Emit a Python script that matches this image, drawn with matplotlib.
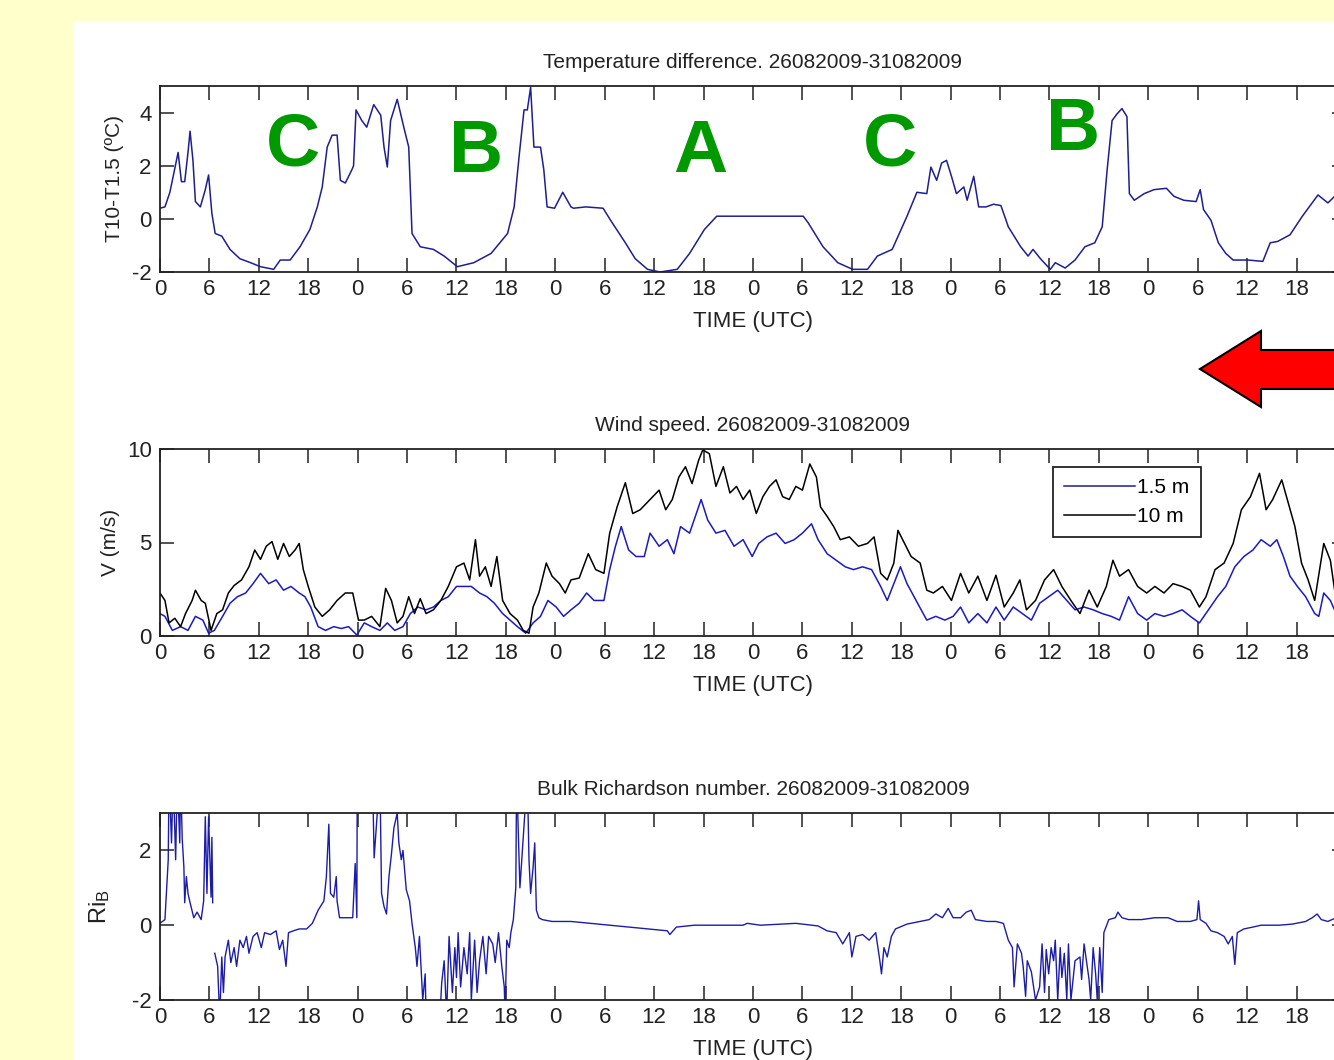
import numpy as np
import matplotlib
matplotlib.use('Agg')
import matplotlib.pyplot as plt
from matplotlib.patches import Rectangle, Polygon

plt.rcParams['font.family'] = ['Liberation Sans Narrow', 'Liberation Sans', 'DejaVu Sans']
plt.rcParams['axes.unicode_minus'] = False

nan = np.nan

# ---- temperature difference T10-T1.5 (hours since 26/08 00 UTC, degC)
t_hours = [0, 0.6, 1.2, 1.6, 2.2, 2.6, 3.0, 3.4, 3.65, 4.0, 4.3, 4.9, 5.5, 5.9, 6.3, 6.7,
           7.5, 8.5, 9.7, 11.0, 12.2, 13.8, 14.6, 15.8, 17.0, 18.2, 19.1, 19.7, 20.3, 20.9,
           21.5, 21.9, 22.5, 23.3, 23.5, 23.8, 24.5, 25.1, 25.95, 26.8, 27.2, 27.6, 28.0, 28.8,
           29.6, 30.2, 30.6, 31.6, 33.2, 34.5, 36.1, 38.1, 40.2, 42.2, 43.0, 43.6, 44.2, 44.6,
           45.0, 45.4, 46.2, 46.6, 47.0, 47.9, 48.9, 49.9, 50.2, 51.7, 53.8, 54.7, 56.5, 57.7,
           59.2, 60.7, 62.8, 64.3, 66.1, 67.6, 70.0, 78.1, 78.7, 80.5, 82.3, 84.1, 85.9, 87.1,
           88.9, 90.7, 91.9, 93.1, 93.6, 94.3, 94.9, 95.5, 96.1, 96.7, 97.6, 98.0, 98.8, 99.4,
           100.3, 101.2, 102.1, 103.0, 104.5, 105.4, 106.0, 106.9, 108.1, 108.7, 109.9, 111.1,
           112.3, 113.5, 114.4, 115.0, 115.6, 116.2, 116.8, 117.4, 117.7, 118.3, 119.5, 120.7,
           122.2, 123.1, 124.3, 125.8, 126.3, 126.7, 127.6, 128.5, 129.4, 130.3, 132.1, 133.9,
           134.8, 135.7, 137.2, 138.7, 140.6, 141.8, 142.8, 144.0]
t_diff = [0.4, 0.45, 1.0, 1.6, 2.5, 1.4, 1.4, 2.5, 3.3, 2.2, 0.65, 0.45, 1.1, 1.65, 0.2, -0.55,
          -0.65, -1.15, -1.5, -1.65, -1.8, -1.9, -1.55, -1.55, -1.05, -0.4, 0.45, 1.2, 2.7, 3.15,
          3.15, 1.45, 1.35, 1.85, 2.0, 4.1, 3.7, 3.45, 4.3, 3.9, 2.7, 1.95, 3.7, 4.5,
          3.45, 2.7, -0.55, -1.05, -1.15, -1.4, -1.8, -1.65, -1.3, -0.55, 0.45, 2.35, 4.1, 4.1,
          4.95, 2.7, 2.7, 1.85, 0.45, 0.4, 1.0, 0.45, 0.4, 0.45, 0.4, -0.05, -0.9, -1.5,
          -1.9, -2.0, -1.9, -1.3, -0.4, 0.1, 0.1, 0.1, -0.15, -1.05, -1.65, -1.9, -1.9, -1.4,
          -1.15, 0.1, 1.0, 0.95, 1.95, 1.45, 2.1, 2.2, 1.6, 0.95, 1.2, 0.7, 1.6, 0.45,
          0.45, 0.55, 0.5, -0.3, -1.05, -1.4, -1.15, -1.5, -1.9, -1.65, -1.85, -1.55,
          -1.05, -0.9, -0.3, 1.85, 3.7, 3.95, 4.15, 3.85, 0.95, 0.7, 0.95, 1.1,
          1.15, 0.85, 0.7, 0.65, 1.1, 0.35, -0.05, -0.9, -1.3, -1.55, -1.55, -1.6,
          -0.9, -0.85, -0.6, 0.1, 0.9, 0.6, 0.9, 1.0]

# ---- wind speed (m/s)
w10_hours = [0, 0.6, 1.1, 1.8, 2.5, 3.1, 3.9, 4.3, 5.0, 5.5, 6.2, 6.9, 7.6, 8.3, 9.0, 9.9,
             10.8, 11.5, 12.2, 12.9, 13.6, 14.3, 15.0, 15.7, 16.4, 16.9, 17.4, 18.0, 18.8,
             19.7, 20.6, 21.5, 22.5, 23.4, 24.1, 24.8, 25.7, 26.7, 27.4, 28.1, 28.8, 29.5,
             30.2, 30.9, 31.6, 32.3, 33.2, 34.1, 35.0, 36.0, 36.9, 37.6, 38.3, 38.8, 39.5,
             40.2, 40.9, 41.6, 42.5, 43.4, 44.1, 44.8, 45.3, 46.0, 46.9, 47.6, 48.5, 49.2,
             49.9, 50.9, 52.0, 52.9, 53.9, 54.6, 55.5, 56.5, 57.4, 58.3, 59.5, 60.6, 61.4,
             62.2, 63.0, 63.8, 64.6, 65.4, 65.9, 66.7, 67.5, 68.4, 69.2, 70.0, 70.8, 71.6,
             72.4, 73.2, 74.0, 74.8, 75.6, 76.4, 77.2, 78.0, 78.9, 79.7, 80.2, 81.0, 81.8,
             82.6, 83.7, 84.8, 85.9, 86.7, 87.5, 88.3, 89.1, 89.6, 90.4, 91.2, 92.3, 93.1,
             93.9, 95.0, 96.1, 97.2, 98.2, 99.3, 100.4, 101.5, 102.5, 103.6, 104.4, 105.2,
             106.3, 107.4, 108.5, 109.5, 110.6, 111.7, 112.8, 113.8, 114.9, 115.7, 116.5,
             117.6, 118.7, 119.8, 120.8, 121.9, 123.0, 124.1, 125.1, 126.2, 127.0, 128.1,
             129.2, 130.3, 131.3, 132.4, 133.5, 134.3, 135.1, 136.2, 137.0, 137.8, 138.6,
             139.4, 140.2, 141.3, 142.1, 142.8, 144.0]
w10 = [2.3, 1.9, 0.7, 0.95, 0.5, 1.2, 1.9, 2.45, 1.9, 1.75, 0.3, 1.2, 1.4, 2.3, 2.7, 3.0,
       3.7, 4.6, 4.1, 4.8, 5.05, 4.1, 4.95, 4.25, 4.6, 4.95, 3.55, 2.65, 1.55,
       1.05, 1.4, 1.9, 2.3, 2.3, 0.85, 0.85, 1.05, 0.5, 2.55, 1.9, 0.7, 1.05,
       2.1, 1.2, 2.0, 1.2, 1.4, 1.9, 2.65, 3.7, 3.9, 3.0, 5.15, 3.2, 3.7,
       2.65, 4.25, 1.9, 1.2, 0.85, 0.3, 0.15, 1.55, 2.3, 3.9, 3.2, 2.8, 2.3,
       3.0, 3.1, 4.4, 3.55, 3.35, 5.5, 6.9, 8.2, 6.55, 6.75, 7.3, 7.8, 6.75,
       7.3, 8.5, 9.05, 8.15, 9.4, 9.95, 9.75, 8.0, 9.05, 7.65, 8.0, 7.3, 7.8,
       6.55, 7.45, 8.0, 8.35, 7.45, 7.3, 8.0, 7.8, 9.2, 8.5, 6.9, 6.4, 5.85,
       5.15, 5.3, 4.8, 4.95, 5.3, 3.35, 3.0, 3.9, 5.65, 4.95, 4.25, 3.9, 2.45,
       2.3, 2.65, 1.9, 3.35, 2.3, 3.2, 1.9, 3.25, 1.55, 2.3, 3.0, 1.4,
       1.9, 3.0, 3.55, 2.65, 1.9, 1.2, 2.45, 1.55, 2.65, 4.05, 3.2,
       3.55, 2.65, 2.3, 2.65, 2.3, 2.8, 2.65, 2.45, 1.55, 2.1, 3.55,
       3.9, 4.95, 6.75, 7.45, 8.7, 6.75, 7.3, 8.35, 7.1, 5.85, 3.9,
       3.0, 1.9, 4.95, 4.05, 1.9, 2.6]

w15_hours = [0, 0.6, 1.5, 2.5, 3.4, 4.3, 5.2, 5.9, 6.6, 7.6, 8.5, 9.4, 10.4, 11.3, 12.2,
             13.2, 14.1, 15.0, 15.9, 16.9, 17.6, 18.3, 19.2, 20.1, 21.1, 22.0, 22.9, 23.9,
             24.8, 25.7, 26.7, 27.6, 28.5, 29.5, 30.4, 31.3, 32.3, 33.2, 34.1, 35.0, 36.0,
             36.9, 37.8, 38.8, 39.7, 40.6, 41.6, 42.5, 43.4, 44.4, 45.3, 46.2, 47.1, 48.1,
             49.0, 49.9, 50.9, 51.8, 52.7, 53.9, 54.6, 55.3, 56.0, 56.9, 57.8, 58.8, 59.5,
             60.6, 61.6, 62.4, 63.2, 64.3, 65.7, 66.5, 67.5, 68.6, 69.7, 70.8, 71.9, 72.7,
             73.7, 74.8, 75.9, 77.0, 78.0, 79.1, 79.9, 81.0, 82.1, 83.2, 84.2, 85.3, 86.4,
             87.5, 88.3, 89.1, 89.9, 90.7, 91.8, 93.1, 94.2, 95.3, 96.3, 97.2, 98.2, 99.3,
             100.4, 101.5, 102.5, 103.6, 104.7, 105.8, 106.8, 107.9, 109.0, 110.1, 111.1,
             112.2, 113.3, 114.4, 115.5, 116.5, 117.6, 118.7, 119.8, 120.8, 121.9, 123.0,
             124.1, 125.1, 126.2, 127.3, 128.4, 129.4, 130.5, 131.6, 132.7, 133.7, 134.8,
             135.6, 136.4, 137.2, 138.1, 139.1, 140.2, 140.7, 141.3, 142.1, 142.8, 144.0]
w15 = [1.2, 1.05, 0.3, 0.5, 0.3, 1.05, 0.85, 0.15, 0.3, 1.05, 1.75, 2.1, 2.3, 2.8, 3.35,
       2.8, 3.0, 2.45, 2.65, 2.3, 2.1, 1.55, 0.5, 0.3, 0.5, 0.4, 0.5, 0.05,
       0.7, 0.5, 0.3, 0.7, 0.3, 0.5, 1.2, 1.55, 1.4, 1.55, 1.9, 2.1, 2.65,
       2.65, 2.65, 2.3, 2.1, 1.75, 1.2, 0.85, 0.5, 0.15, 0.7, 1.05, 1.9, 1.55,
       1.05, 1.4, 1.75, 2.3, 1.9, 1.9, 3.55, 4.8, 5.85, 4.6, 4.25, 4.25, 5.5,
       4.8, 5.15, 4.4, 5.85, 5.5, 7.3, 6.2, 5.5, 5.65, 4.8, 5.15, 4.25, 4.95,
       5.3, 5.5, 4.95, 5.15, 5.5, 6.0, 5.15, 4.4, 4.05, 3.7, 3.55, 3.7, 3.55,
       2.65, 1.9, 2.8, 3.7, 2.8, 1.9, 0.85, 1.05, 0.85, 1.05, 1.55, 0.7, 1.2,
       0.7, 1.55, 0.85, 1.55, 1.2, 0.85, 1.75, 2.1, 2.45, 1.9, 1.4,
       1.55, 1.4, 1.2, 1.05, 0.85, 2.1, 1.2, 0.85, 1.2, 1.05, 1.2,
       1.4, 1.05, 0.7, 1.4, 2.1, 2.65, 3.7, 4.25, 4.6, 5.15, 4.8,
       5.15, 4.25, 3.2, 2.65, 2.1, 1.2, 1.05, 2.3, 1.9, 1.2, 1.4]

# ---- bulk Richardson number (nan = missing)
ri_hours = [0, 0.6, 1.0, 1.1, 1.4, 1.6, 1.9, 2.1, 2.4, 2.5, 2.7, 2.9, 3.0, 3.2, 3.4, 3.6,
            4.1, 4.5, 5.0, 5.3, 5.5, 5.7, 5.9, 6.2, 6.3, 6.4, 6.5,
            6.65, 7.0, 7.25, 7.5, 7.7, 7.9, 8.3, 8.6, 9.0, 9.3, 9.7, 10.1, 10.5, 10.8, 11.3,
            11.8, 12.3, 12.7, 13.4, 14.1, 14.5, 14.9, 15.3, 15.6, 16.2, 16.9, 17.8, 18.5,
            19.2, 19.9, 20.2, 20.5, 20.7, 21.1, 21.4, 21.5, 21.8, 22.5, 23.4, 23.7, 23.9,
            23.95, 24.5,
            25.8, 26.0, 26.7, 26.9, 27.2, 27.5, 27.8, 28.1, 28.4, 28.8, 29.0, 29.3, 29.5,
            29.9, 30.3, 30.6, 31.0, 31.2, 31.5, 31.9, 32.2, 32.3, 33.0,
            34.0, 34.2, 34.5, 34.8, 35.1, 35.5, 35.8, 36.0, 36.2, 36.5, 36.9, 37.3, 37.6,
            37.8, 38.2, 38.5, 38.8, 39.2, 39.6, 39.9, 40.4, 40.7, 41.1, 41.5, 41.8, 41.9,
            42.1, 42.4, 42.6, 42.9, 43.2, 43.3, 43.7, 44.6, 44.8, 45.0, 45.3, 45.5, 45.7,
            46.0, 46.4, 47.6, 49.9, 52.3, 54.6, 56.9, 59.3, 60.0, 61.6, 61.9, 62.7, 64.9,
            70.8, 71.3, 72.9, 75.6, 77.2, 79.9, 81.0, 82.1, 82.9, 83.7, 84.0, 84.5, 85.3,
            86.1, 86.9, 87.4, 87.6, 87.9, 88.3, 88.8, 89.3, 90.7, 92.3, 93.4, 94.2, 95.0,
            95.7, 96.3, 97.2, 97.9, 98.5, 99.0, 100.4, 101.5, 102.4, 103.0, 103.5, 103.7,
            104.1, 104.6, 104.8, 105.1, 105.3, 105.8, 106.3, 106.8, 107.1, 107.4, 107.6,
            107.9, 108.2, 108.5, 108.7, 109.0, 109.3, 109.5, 109.8, 110.1, 110.3, 110.6,
            111.1, 111.7, 111.9, 112.2, 112.8, 113.0, 113.3, 113.6, 113.8, 114.1, 114.4,
            114.6, 115.2, 116.0, 116.3, 116.8, 117.6, 119.2, 120.8, 122.4, 123.5, 125.1,
            125.9, 126.1, 126.3, 127.0, 127.6, 128.4, 129.2, 129.7, 130.2, 130.5, 130.8,
            131.6, 132.7, 133.7, 135.9, 137.5, 139.1, 139.9, 140.5, 141.0, 141.8, 142.8,
            144.0]
ri_b = [0.05, 0.15, 1.75, 4.0, 2.2, 4.0, 1.75, 4.0, 2.2, 4.0, 2.3, 1.55, 0.6, 1.3, 0.85, 0.65,
        0.2, 0.35, 0.15, 0.65, 2.9, 0.85, 2.9, 0.75, 2.35, 0.6, nan,
        -0.75, -1.1, -2.5, -0.85, -1.8, -0.85, -0.4, -1.0, -0.6, -1.1, -0.4, -0.6, -0.3, -0.75, -0.3,
        -0.2, -0.6, -0.2, -0.25, -0.15, -0.65, -0.4, -1.1, -0.2, -0.15, -0.1, -0.1, 0.05,
        0.4, 0.65, 1.3, 2.7, 0.85, 0.75, 1.3, 0.65, 0.2, 0.2, 0.2, 1.65, 0.2,
        4.0, nan,
        4.0, 1.8, 4.0, 0.85, 0.5, 0.3, 1.3, 1.9, 2.6, 3.0, 2.2, 1.75, 2.0,
        0.95, 0.65, 0.05, -0.6, -1.1, -0.3, -2.0, -1.3, -2.4, nan,
        -2.4, -1.55, -0.95, -2.4, -0.3, -1.8, -0.6, -1.4, -0.2, -1.65, -0.6, -1.3, -0.2,
        -2.0, -0.4, -1.8, -0.95, -0.3, -1.3, -0.3, -0.5, -1.0, -0.2, -1.1, -1.65, -2.4,
        -0.4, -0.6, -0.2, 0.15, 1.0, 4.0, 1.0, 4.0, 1.75, 0.85, 1.55, 2.2, 0.4,
        0.2, 0.15, 0.1, 0.1, 0.05, 0.0, -0.05, -0.1, -0.12, -0.15, -0.25, -0.05, 0.0,
        0.0, 0.05, 0.0, 0.03, 0.05, -0.02, -0.15, -0.2, -0.5, -0.2, -0.85, -0.3, -0.25,
        -0.4, -0.2, -0.95, -1.3, -0.6, -0.85, -0.3, -0.1, 0.03, 0.1, 0.15, 0.3, 0.2,
        0.45, 0.2, 0.2, 0.35, 0.4, 0.15, 0.1, 0.1, 0.05, -0.4, -0.6, -1.65,
        -0.5, -0.75, -1.1, -1.9, -0.95, -1.25, -2.0, -1.65, -0.5, -1.8, -0.65,
        -1.3, -0.6, -0.95, -0.4, -2.0, -0.6, -1.4, -0.75, -2.0, -0.5, -2.0,
        -0.95, -0.85, -1.45, -0.5, -1.45, -2.0, -0.6, -1.3, -2.0, -0.6, -1.8,
        -0.2, 0.15, 0.2, 0.35, 0.2, 0.15, 0.15, 0.2, 0.2, 0.1, 0.1,
        0.15, 0.65, 0.15, 0.05, -0.15, -0.2, -0.3, -0.5, -0.3, -1.05, -0.2,
        -0.1, -0.05, 0.0, 0.0, 0.03, 0.1, 0.2, 0.3, 0.15, 0.1, 0.2,
        0.15]

tick_hours = list(range(0, 145, 6))
tick_labels = ['0', '6', '12', '18'] * 6 + ['0']

W, H = 1334, 1060
fig = plt.figure(figsize=(W / 100, H / 100), dpi=100, facecolor='#FFFFCC')


def fx(px):
    return px / W


def fy(py):
    return 1 - py / H


# white slide panel
fig.add_artist(Rectangle((fx(73), 0), 1 - fx(73), fy(21), transform=fig.transFigure,
                         facecolor='white', edgecolor='none', zorder=-5))

left = fx(160)
width = (1346 - 160) / W


def make_axes(top, bottom, title, ylim, yticks, ylabel, ylabel_size=15, ylabel_pad=6):
    ax = fig.add_axes([left, fy(bottom), width, (bottom - top) / H])
    ax.set_xlim(0, 144)
    ax.set_ylim(*ylim)
    ax.set_xticks(tick_hours)
    ax.set_xticklabels(tick_labels)
    ax.set_yticks(yticks)
    ax.tick_params(direction='in', length=10, width=1.1, top=True, right=True,
                   labelsize=16, pad=5, colors='#222222')
    ax.tick_params(axis='y', pad=6)
    for s in ax.spines.values():
        s.set_linewidth(1.3)
        s.set_color('#222222')
    ax.set_title(title, fontsize=15, pad=13, color='#222222')
    ax.set_xlabel('TIME (UTC)', fontsize=16, labelpad=8, color='#222222')
    ax.set_ylabel(ylabel, fontsize=ylabel_size, labelpad=ylabel_pad, color='#222222')
    return ax


ax1 = make_axes(86, 272, 'Temperature difference. 26082009-31082009', (-2, 5), [-2, 0, 2, 4],
                'T10-T1.5 (ºC)')
ax1.plot(t_hours, t_diff, color='#1e1e90', lw=1.1)

ax2 = make_axes(449, 636, 'Wind speed. 26082009-31082009', (0, 10), [0, 5, 10], 'V (m/s)',
                ylabel_pad=5)
ax2.plot(w15_hours, w15, color='#1a1ac0', lw=1.1, label='1.5 m')
ax2.plot(w10_hours, w10, color='black', lw=1.1, label='10 m')
leg = ax2.legend(loc='upper left', bbox_to_anchor=((1053 - 160) / 1186, (636 - 467) / 187),
                 fontsize=15, handlelength=3.4, handletextpad=0.1, fancybox=False,
                 framealpha=1, edgecolor='#222222', borderpad=0.55, labelspacing=0.45,
                 borderaxespad=0)
leg.get_frame().set_linewidth(1.3)
leg.get_lines()[0].set_color('#1e1e90')

ax3 = make_axes(813, 1000, 'Bulk Richardson number. 26082009-31082009', (-2, 3), [-2, 0, 2],
                r'$\mathregular{Ri_B}$', ylabel_size=17, ylabel_pad=14)
ax3.plot(ri_hours, ri_b, color='#1c1ca8', lw=1.0)

# regime labels
letters = [('C', 293, 146), ('B', 476, 153), ('A', 700, 153), ('C', 890, 146), ('B', 1073, 130)]
for s, px, py in letters:
    fig.text(fx(px), fy(py), s, fontsize=54, fontweight='bold', color='#009900',
             family=['Liberation Sans', 'DejaVu Sans'], ha='center', va='center', zorder=10)

# red arrow
arrow = [(1200, 369), (1261, 331), (1261, 350), (1345, 350), (1345, 389), (1261, 389),
         (1261, 407)]
fig.add_artist(Polygon([(fx(x), fy(y)) for x, y in arrow], closed=True,
                       transform=fig.transFigure, facecolor='#FF0000', edgecolor='black',
                       lw=1.5, zorder=10))

fig.savefig('out.png', dpi=100, facecolor=fig.get_facecolor())
